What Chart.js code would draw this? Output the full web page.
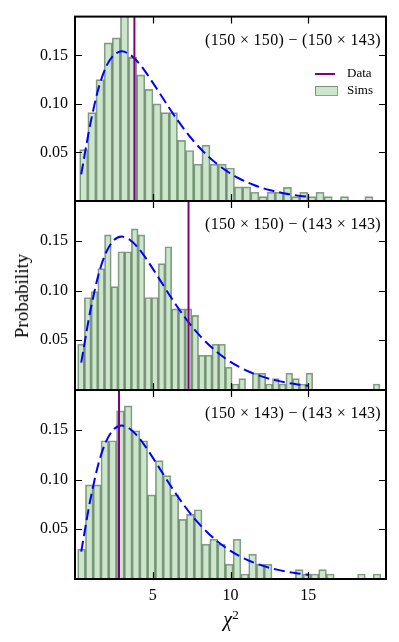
<!DOCTYPE html>
<html>
<head>
<meta charset="utf-8">
<script src="https://cdn.jsdelivr.net/npm/chart.js@4.4.1/dist/chart.umd.min.js"></script>
<style>
  html, body { margin: 0; padding: 0; background: #fff; }
  #wrap { position: relative; width: 399px; height: 642px; }
  #wrap canvas { position: absolute; left: 0; top: 0; }
  .lbl { position: absolute; font-family: 'Liberation Serif', serif; color: #000; white-space: nowrap; }
  #ylab { left: 22px; top: 296px; font-size: 19px; transform: translate(-50%, -50%) rotate(-90deg); }
  #xlab { left: 231px; top: 619px; font-size: 20px; font-style: italic; transform: translate(-50%, -50%); }
  #xlab sup { font-style: normal; font-size: 13px; }
</style>
</head>
<body>
<div id="wrap">
  <canvas id="panel1" width="399" height="642"></canvas>
  <canvas id="panel2" width="399" height="642"></canvas>
  <canvas id="panel3" width="399" height="642"></canvas>
  <div class="lbl" id="ylab">Probability</div>
  <div class="lbl" id="xlab">χ<sup>2</sup></div>
</div>
<script>
// histogram bins: first edge, bin width, heights (probability density)
const simStart = [0.30, 0.17, 0.17];
const simWidth = [0.524, 0.432, 0.50];

const sims1 = [0.053, 0.091, 0.125, 0.163, 0.168, 0.198, 0.148, 0.130, 0.115, 0.100,
  0.091, 0.091, 0.0625, 0.052, 0.038, 0.0575, 0.038, 0.038, 0.034, 0.0145,
  0.0145, 0.009, 0.0045, 0.009, 0.009, 0.014, 0.0045, 0.009, 0.0045, 0.009,
  0.0045, 0, 0.0045, 0, 0, 0.0045];

const sims2 = [0.046, 0.093, 0.099, 0.122, 0.156, 0.104, 0.139, 0.139, 0.162, 0.156,
  0.093, 0.093, 0.127, 0.144, 0.0815, 0.0815, 0.0815, 0.075, 0.035, 0.035,
  0.046, 0.046, 0.023, 0.006, 0.0115, 0, 0.017, 0.017, 0.006, 0.0115,
  0.006, 0.017, 0.0115, 0.006, 0.017, 0, 0, 0, 0, 0,
  0, 0, 0, 0, 0.006];

const sims3 = [0.030, 0.0946, 0.0946, 0.139, 0.139, 0.169, 0.174, 0.149, 0.139, 0.0845,
  0.119, 0.104, 0.0845, 0.060, 0.065, 0.0696, 0.035, 0.040, 0.035, 0.015,
  0.040, 0.005, 0.025, 0.015, 0.015, 0, 0, 0, 0.0095, 0.005,
  0.005, 0.0095, 0.005, 0, 0, 0, 0.005, 0, 0.005];

// observed chi^2 of the data (purple line)
const dataValues = [3.82, 7.30, 2.83];

// expected distribution (blue dashed curve)
const curveX = [0.4, 0.5, 0.75, 1, 1.5, 2, 2.5, 3, 3.5, 4, 4.5, 5, 5.5, 6, 6.5, 7, 7.5, 8,
  8.5, 9, 9.5, 10, 10.5, 11, 11.5, 12, 12.5, 13, 13.5, 14, 14.5, 15];
const curveY = [0.0275, 0.0366, 0.0594, 0.0807, 0.1154, 0.1384, 0.1506, 0.1542, 0.1513, 0.1440,
  0.1338, 0.1220, 0.1097, 0.0973, 0.0854, 0.0744, 0.0642, 0.0551, 0.0470, 0.0399,
  0.0337, 0.0283, 0.0237, 0.0198, 0.0165, 0.0137, 0.0113, 0.0094, 0.0077, 0.0064,
  0.0052, 0.0043];

const panelTitles = ['(150 × 150) − (150 × 143)', '(150 × 150) − (143 × 143)', '(150 × 143) − (143 × 143)'];
const xTicks = [5, 10, 15];
const yTicks = [0.05, 0.10, 0.15];
const xMin = 0, xMax = 20, yMax = 0.19;

// pixel rows of each panel's plot area
const panelBox = [[13, 201], [201, 390], [390, 579]];

const FONT = "'Liberation Serif', serif";
const fillGreen = 'rgba(0, 128, 0, 0.2)';
const edgeGreen = 'rgba(30, 60, 30, 0.5)';

const framePlugin = {
    id: 'frame',
    afterDatasetsDraw(chart) {
        const { ctx, chartArea: a, scales } = chart;
        const opts = chart.options.plugins.frame;
        ctx.save();
        ctx.strokeStyle = '#000';
        ctx.lineWidth = 1.2;
        xTicks.forEach(v => {
            const px = Math.round(scales.x.getPixelForValue(v)) + 0.5;
            ctx.beginPath();
            ctx.moveTo(px, a.top); ctx.lineTo(px, a.top + 7);
            ctx.moveTo(px, a.bottom); ctx.lineTo(px, a.bottom - 7);
            ctx.stroke();
        });
        yTicks.forEach(v => {
            const py = Math.round(scales.y.getPixelForValue(v)) + 0.5;
            ctx.beginPath();
            ctx.moveTo(a.left, py); ctx.lineTo(a.left + 7, py);
            ctx.moveTo(a.right, py); ctx.lineTo(a.right - 7, py);
            ctx.stroke();
        });
        ctx.lineWidth = 2;
        ctx.strokeRect(a.left, a.top, a.right - a.left, a.bottom - a.top);

        // panel label
        ctx.fillStyle = '#000';
        ctx.font = '16px ' + FONT;
        ctx.letterSpacing = '0.3px';
        ctx.textAlign = 'right';
        ctx.textBaseline = 'middle';
        ctx.fillText(opts.title, a.right - 5, a.top + 24);
        ctx.letterSpacing = '0px';

        if (opts.legend) {
            const lx = 315, tx = 347;
            ctx.strokeStyle = 'purple';
            ctx.lineWidth = 2;
            ctx.beginPath();
            ctx.moveTo(lx, 74); ctx.lineTo(lx + 20, 74);
            ctx.stroke();
            ctx.fillStyle = fillGreen;
            ctx.fillRect(lx, 86, 22, 9);
            ctx.strokeStyle = edgeGreen;
            ctx.lineWidth = 1;
            ctx.strokeRect(lx + 0.5, 86.5, 22, 9);
            ctx.fillStyle = '#000';
            ctx.font = '13px ' + FONT;
            ctx.textAlign = 'left';
            ctx.fillText('Data', tx, 74);
            ctx.fillText('Sims', tx, 91);
        }
        ctx.restore();
    }
};

function makePanel(canvasId, i, heights) {
    const [top, bottom] = panelBox[i];
    const isLast = i === 2;
    const xHeight = isLast ? 30 : 0;
    const bars = heights.map((h, k) => ({ x: simStart[i] + (k + 0.5) * simWidth[i], y: h }));
    const curve = curveX.map((x, k) => ({ x: x, y: curveY[k] }));

    return new Chart(document.getElementById(canvasId), {
        type: 'bar',
        data: {
            datasets: [
                {
                    type: 'line',
                    label: 'Data',
                    data: [{ x: dataValues[i], y: 0 }, { x: dataValues[i], y: yMax }],
                    borderColor: 'purple',
                    borderWidth: 2,
                    pointRadius: 0,
                    order: 0
                },
                {
                    type: 'line',
                    label: 'Expected',
                    data: curve,
                    borderColor: '#0000ff',
                    borderWidth: 2,
                    borderDash: [11, 5],
                    pointRadius: 0,
                    tension: 0.3,
                    order: 1
                },
                {
                    type: 'bar',
                    label: 'Sims',
                    data: bars,
                    backgroundColor: fillGreen,
                    borderColor: edgeGreen,
                    borderWidth: 1,
                    barPercentage: 1,
                    categoryPercentage: 1,
                    order: 2
                }
            ]
        },
        options: {
            responsive: false,
            animation: false,
            events: [],
            layout: { padding: { top: top, bottom: 642 - bottom - xHeight, left: 0, right: 13 } },
            plugins: {
                legend: { display: false },
                tooltip: { enabled: false },
                frame: { title: panelTitles[i], legend: i === 0 }
            },
            scales: {
                x: {
                    type: 'linear',
                    offset: false,
                    min: xMin,
                    max: xMax,
                    grid: { display: false, drawTicks: false },
                    border: { display: false },
                    afterBuildTicks: s => { s.ticks = xTicks.map(v => ({ value: v })); },
                    afterFit: s => { s.height = xHeight; },
                    ticks: {
                        display: isLast,
                        padding: 7,
                        color: '#000',
                        font: { family: FONT, size: 16 },
                        callback: v => String(v)
                    }
                },
                y: {
                    min: 0,
                    max: yMax,
                    grid: { display: false, drawTicks: false },
                    border: { display: false },
                    afterBuildTicks: s => { s.ticks = yTicks.map(v => ({ value: v })); },
                    afterFit: s => { s.width = 75; },
                    ticks: {
                        padding: 7,
                        color: '#000',
                        font: { family: FONT, size: 16 },
                        callback: v => v.toFixed(2)
                    }
                }
            }
        },
        plugins: [framePlugin]
    });
}

makePanel('panel1', 0, sims1);
makePanel('panel2', 1, sims2);
makePanel('panel3', 2, sims3);
</script>
</body>
</html>
